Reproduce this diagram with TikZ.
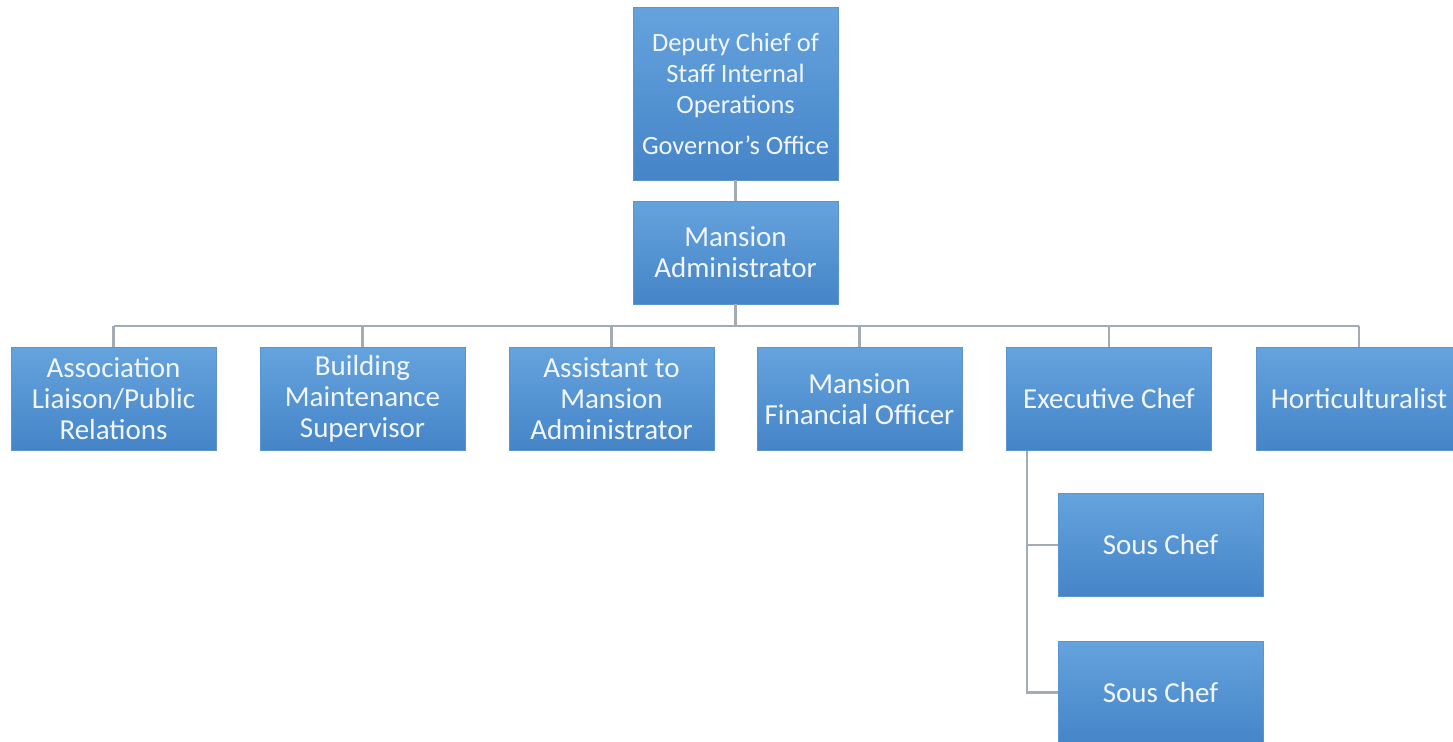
\documentclass[tikz,border=0pt]{standalone}
\usepackage{fontspec}
\setmainfont{Carlito}
\usetikzlibrary{calc}

\definecolor{boxtop}{HTML}{65A3DE}
\definecolor{boxbot}{HTML}{4584C7}
\definecolor{boxline}{HTML}{5A95D0}
\definecolor{linkgray}{HTML}{A3ABB4}
\definecolor{boxtext}{HTML}{F2F6FB}

\tikzset{
  post/.style={rectangle, draw=boxline, line width=.4pt, top color=boxtop, bottom color=boxbot,
    minimum width=102.5pt, minimum height=51.5pt, inner sep=2pt, align=center,
    text=boxtext, font=\fontsize{14.5}{15.5}\selectfont},
  link/.style={draw=linkgray, line width=1.2pt}
}

\begin{document}
\begin{tikzpicture}[x=.5pt,y=-.5pt]
\clip (0,0) rectangle (1453,741);
\fill[white] (0,0) rectangle (1453,741);

% top of the chart
\node[post, minimum height=86.5pt, font=\fontsize{13.2}{15.5}\selectfont] (dcos) at (735.5,93.5)
  {Deputy Chief of\\Staff Internal\\Operations\\[5pt]Governor's Office};
\node[post] (madmin) at (735.5,252.5) {Mansion\\Administrator};

% second row
\node[post] (assoc) at (113.5,399) {Association\\Liaison/Public\\Relations};
\node[post] (bldg)  at (362.5,399) {Building\\Maintenance\\Supervisor};
\node[post] (asst)  at (611.5,399) {Assistant to\\Mansion\\Administrator};
\node[post] (fin)   at (859.5,399) {Mansion\\Financial Officer};
\node[post] (exec)  at (1109,399)  {Executive Chef};
\node[post] (hort)  at (1359,399)  {Horticulturalist};

% under the executive chef
\node[post] (sous1) at (1160.5,545)   {Sous Chef};
\node[post] (sous2) at (1160.5,692.5) {Sous Chef};

\coordinate (bus) at (735.5,326);
\coordinate (spine) at (1027,451);

\draw[link] (dcos) -- (madmin);
\draw[link] (madmin) -- (bus);
\draw[link] (bus -| assoc.north) -- (bus -| hort.north);
\foreach \n in {assoc,bldg,asst,fin,exec,hort}
  \draw[link] (bus -| \n.north) -- (\n.north);
\draw[link] (spine) |- (sous2.west);
\draw[link] (spine |- sous1.west) -- (sous1.west);
\end{tikzpicture}
\end{document}
